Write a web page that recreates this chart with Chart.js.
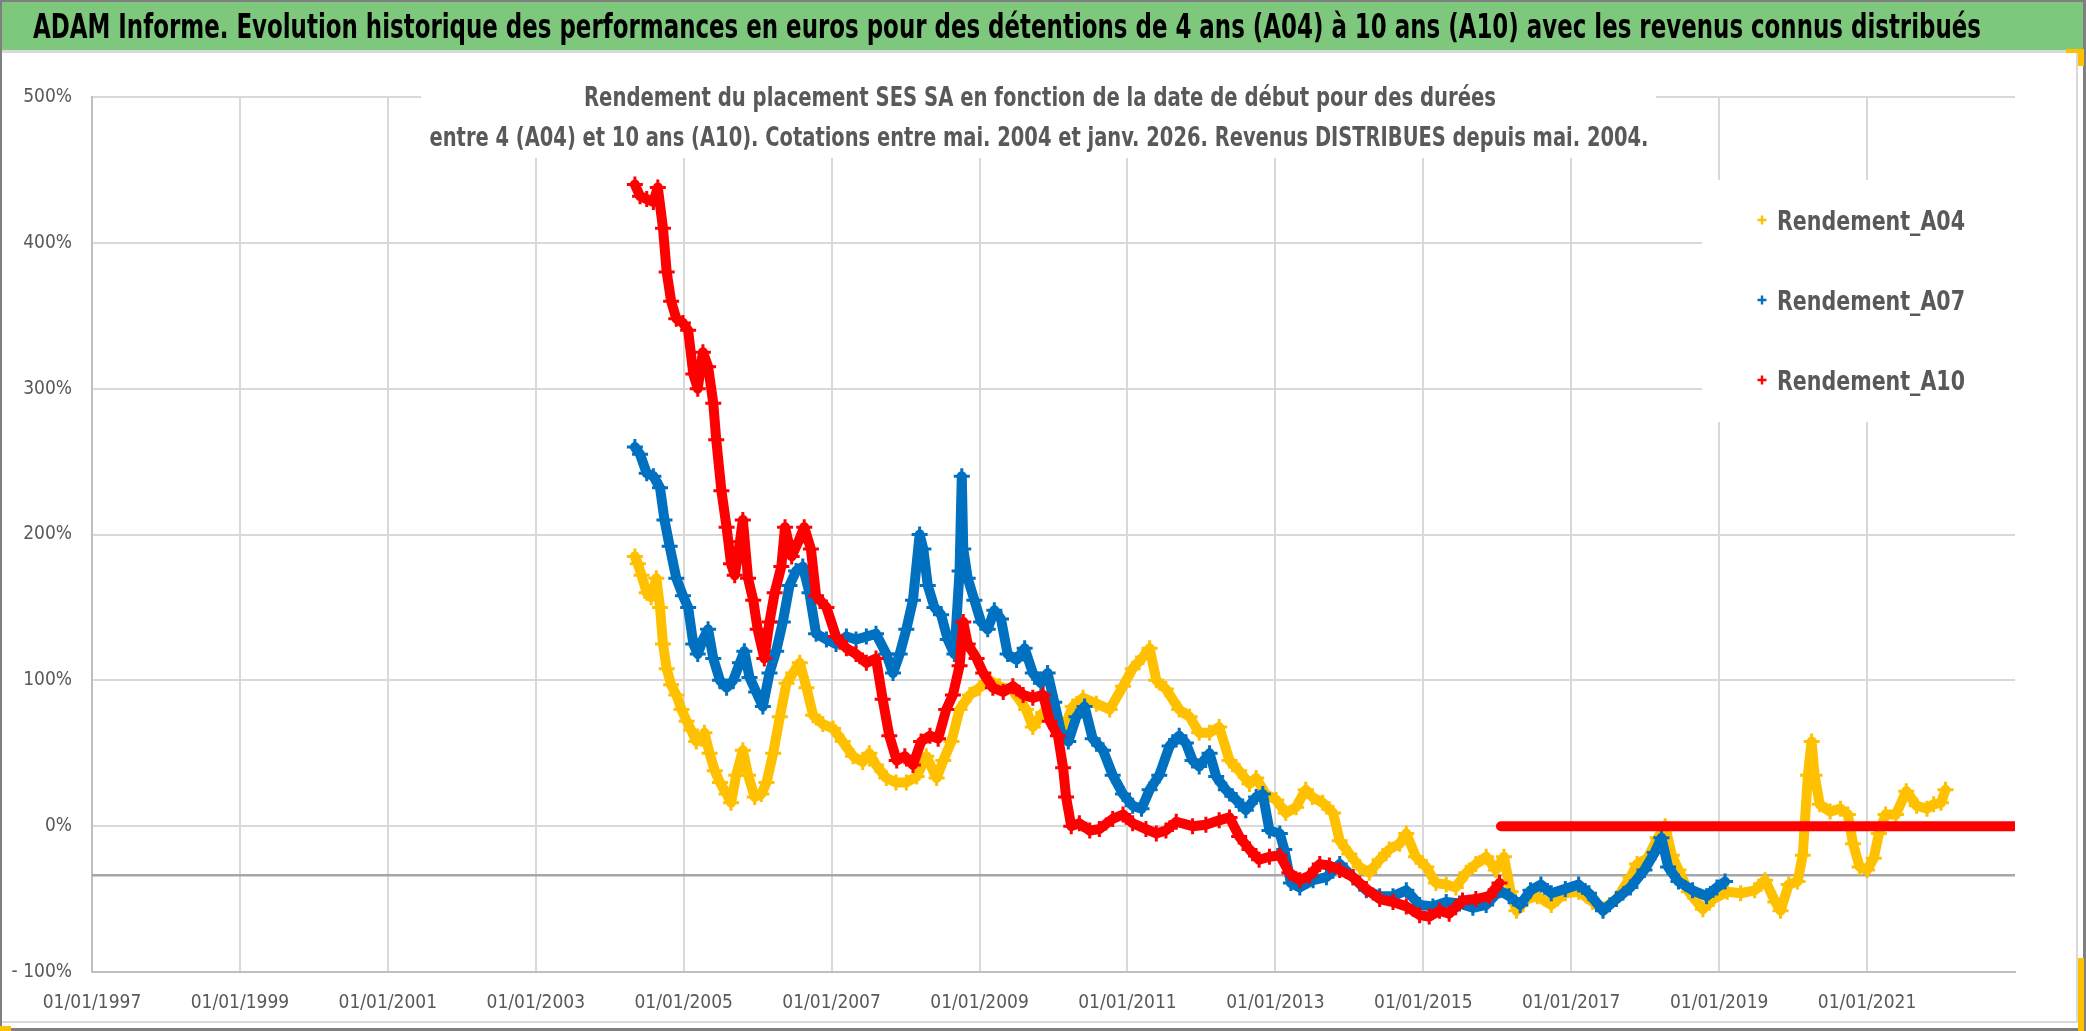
<!DOCTYPE html>
<html><head><meta charset="utf-8">
<script src="https://cdn.jsdelivr.net/npm/chart.js@4/dist/chart.umd.min.js"></script>
<style>html,body{margin:0;padding:0;background:#fff;overflow:hidden}canvas{display:block}</style>
</head><body>
<canvas id="c" width="2086" height="1031"></canvas>
<script>
const bannerTitle = "ADAM Informe. Evolution historique des performances en euros pour des détentions de 4 ans (A04) à 10 ans (A10) avec les revenus connus distribués";
const chartTitleLines = [
  "Rendement du placement SES SA en fonction de la date de début pour des durées",
  "entre 4 (A04) et 10 ans (A10). Cotations entre mai. 2004 et janv. 2026. Revenus DISTRIBUES depuis mai. 2004."
];
const seriesNames = ["Rendement_A04", "Rendement_A07", "Rendement_A10"];
const seriesColors = ["#FFC000", "#0070C0", "#FF0000"];

const xTickYears = [1997, 1999, 2001, 2003, 2005, 2007, 2009, 2011, 2013, 2015, 2017, 2019, 2021];
const xTickLabels = ["01/01/1997", "01/01/1999", "01/01/2001", "01/01/2003", "01/01/2005", "01/01/2007", "01/01/2009", "01/01/2011", "01/01/2013", "01/01/2015", "01/01/2017", "01/01/2019", "01/01/2021"];
const yTickValues = [-100, 0, 100, 200, 300, 400, 500];
const yTickLabels = ["- 100%", "0%", "100%", "200%", "300%", "400%", "500%"];
const axisCrossValue = -33.6;

// Rendement_A04 (start date as decimal year, return in %)
const a04Years = [2004.34,2004.38,2004.43,2004.50,2004.56,2004.63,2004.68,2004.72,2004.77,2004.83,2004.90,2004.97,2005.04,2005.10,2005.17,2005.24,2005.28,2005.35,2005.42,2005.49,2005.58,2005.64,2005.71,2005.80,2005.87,2005.96,2006.05,2006.12,2006.21,2006.30,2006.39,2006.48,2006.57,2006.66,2006.75,2006.88,2007.02,2007.15,2007.29,2007.42,2007.51,2007.60,2007.74,2007.87,
2008.01,2008.15,2008.28,2008.42,2008.51,2008.62,2008.73,2008.87,2009.00,2009.14,2009.27,2009.45,2009.63,2009.72,2009.86,2009.99,2010.13,2010.26,2010.40,2010.58,2010.76,2010.94,2011.07,2011.21,2011.30,2011.39,2011.52,2011.70,2011.84,2011.97,2012.11,2012.24,2012.38,2012.51,2012.65,2012.74,2012.87,2013.01,2013.14,2013.28,2013.41,2013.50,2013.64,2013.78,2013.87,2014.00,2014.14,2014.27,2014.41,2014.54,2014.68,2014.77,2014.90,2015.04,2015.17,2015.31,2015.44,2015.58,2015.71,2015.85,2015.98,2016.09,
2016.18,2016.26,2016.40,2016.54,2016.73,2016.92,2017.10,2017.29,2017.43,2017.61,2017.80,2017.89,2018.03,2018.17,2018.27,2018.36,2018.45,2018.59,2018.78,2018.92,2019.11,2019.29,2019.48,2019.62,2019.76,2019.83,2019.94,2020.06,2020.13,2020.20,2020.25,2020.29,2020.36,2020.50,2020.64,2020.74,2020.81,2020.90,2021.00,2021.09,2021.16,2021.25,2021.39,2021.53,2021.67,2021.81,2021.90,2022.00,2022.06];
const a04Values = [185,180,172,160,157,170,150,125,108,97,90,80,72,66,58,60,64,50,38,30,22,16,35,52,35,20,22,30,50,75,98,105,112,95,76,70,67,58,48,44,50,42,33,30,
30,34,48,33,45,58,80,90,95,100,96,93,80,68,78,80,66,82,88,84,80,96,108,116,122,100,94,80,75,64,64,68,45,38,29,33,22,18,9,13,25,20,16,9,-10,-19,-28,-32,-23,-16,-12,-5,-21,-28,-39,-40,-42,-32,-26,-21,-30,-21,
-45,-58,-50,-48,-54,-46,-45,-52,-57,-50,-35,-26,-22,-8,0,-20,-30,-45,-57,-50,-45,-46,-44,-37,-52,-58,-40,-38,-20,35,58,35,15,10,12,8,-12,-28,-30,-22,-5,8,8,24,14,12,15,16,25];

// Rendement_A07
const a07Years = [2004.34,2004.41,2004.50,2004.59,2004.68,2004.74,2004.81,2004.90,2004.99,2005.06,2005.13,2005.19,2005.26,2005.33,2005.40,2005.49,2005.58,2005.67,2005.76,2005.82,2005.89,2005.98,2006.07,2006.16,2006.25,2006.34,2006.43,2006.52,2006.61,2006.70,2006.79,2006.93,2007.06,2007.20,2007.33,2007.47,2007.60,2007.74,2007.83,2007.92,2008.01,2008.10,2008.19,2008.24,2008.30,2008.39,2008.48,2008.57,2008.66,2008.73,2008.76,2008.78,2008.84,2008.93,2009.02,2009.11,2009.20,2009.29,2009.38,2009.50,2009.61,2009.72,2009.83,2009.92,2010.01,2010.10,2010.20,2010.31,2010.42,2010.53,2010.67,2010.80,2010.94,2011.07,2011.19,2011.30,2011.43,2011.57,2011.70,2011.79,2011.88,2011.97,2012.11,2012.20,2012.33,2012.47,2012.60,2012.74,2012.83,2012.92,2013.06,2013.12,2013.21,2013.33,2013.51,2013.69,2013.87,2014.05,2014.23,2014.41,2014.59,2014.77,2014.95,2015.13,2015.31,2015.49,2015.67,2015.85,2016.03,2016.16,2016.31,2016.45,2016.59,2016.73,2016.92,2017.10,2017.24,2017.43,2017.61,2017.80,2017.99,2018.13,2018.22,2018.31,2018.45,2018.64,2018.83,2018.97,2019.08];
const a07Values = [260,255,242,240,232,210,192,170,158,150,125,118,128,135,115,100,95,100,112,120,102,92,82,105,120,140,165,175,178,160,132,128,125,130,128,130,132,118,105,118,135,155,200,190,165,150,145,128,118,175,240,190,170,155,140,135,148,142,118,114,122,105,98,105,85,65,58,75,82,60,52,35,22,14,12,25,35,55,62,57,45,41,50,34,25,18,11,20,22,-3,-5,-16,-39,-42,-37,-35,-26,-35,-44,-48,-48,-44,-54,-55,-52,-53,-56,-54,-44,-48,-54,-44,-40,-46,-43,-40,-46,-58,-50,-42,-30,-18,-8,-28,-38,-44,-48,-42,-38];

// Rendement_A10
const a10Years = [2004.34,2004.41,2004.50,2004.59,2004.65,2004.72,2004.77,2004.83,2004.90,2004.99,2005.06,2005.13,2005.19,2005.26,2005.33,2005.40,2005.44,2005.51,2005.58,2005.64,2005.69,2005.76,2005.80,2005.87,2005.94,2006.00,2006.09,2006.16,2006.23,2006.32,2006.37,2006.46,2006.55,2006.63,2006.72,2006.79,2006.93,2007.06,2007.20,2007.33,2007.47,2007.60,2007.69,2007.78,2007.88,2007.99,2008.10,2008.21,2008.33,2008.44,2008.55,2008.64,2008.73,2008.78,2008.84,2008.96,2009.05,2009.18,2009.32,2009.45,2009.59,2009.72,2009.86,2009.95,2010.06,2010.13,2010.17,2010.24,2010.35,2010.49,2010.62,2010.80,2010.94,2011.07,2011.25,2011.39,2011.52,2011.66,2011.88,2012.06,2012.24,2012.38,2012.51,2012.65,2012.78,2012.92,2013.06,2013.19,2013.33,2013.46,2013.60,2013.73,2013.87,2014.05,2014.23,2014.41,2014.59,2014.77,2014.95,2015.08,2015.22,2015.35,2015.53,2015.71,2015.89,2016.03];
const a10Values = [440,432,430,428,438,410,380,360,348,345,340,310,300,325,315,290,265,230,205,180,172,195,210,170,155,135,115,140,160,178,205,185,195,205,190,158,150,130,122,118,112,115,87,62,45,48,42,58,62,60,80,90,110,140,125,115,105,95,92,96,90,88,90,72,62,40,20,0,2,-3,-2,5,8,2,-2,-5,-3,3,0,1,4,6,-7,-16,-23,-21,-20,-32,-37,-34,-26,-27,-30,-35,-43,-50,-52,-55,-61,-62,-58,-60,-51,-50,-48,-39];
// Rendement_A10 after 2016 (flat at 0 %)
const a10FlatYears = [2016.05, 2017.0, 2018.0, 2019.0, 2020.0, 2021.0, 2022.0, 2022.99];
const a10FlatValues = [0, 0, 0, 0, 0, 0, 0, 0];

const FONT = "'DejaVu Sans Condensed','Liberation Sans Narrow','Liberation Sans',sans-serif";
const GRAY_TEXT = "#595959";

function pts(xs, ys) { return xs.map((x, i) => ({ x: x, y: ys[i] })); }

function fitText(ctx, text, x, y, w, font, color, align) {
  ctx.save();
  ctx.font = font;
  const m = ctx.measureText(text).width;
  ctx.translate(x, y);
  ctx.scale(w / m, 1);
  ctx.fillStyle = color;
  ctx.textAlign = "left";
  ctx.textBaseline = "alphabetic";
  ctx.fillText(text, align === "center" ? -m / 2 : 0, 0);
  ctx.restore();
}

function drawCross(ctx, x, y, r, color) {
  ctx.save();
  ctx.strokeStyle = color; ctx.lineWidth = 2.4;
  ctx.beginPath();
  ctx.moveTo(x - r, y); ctx.lineTo(x + r, y);
  ctx.moveTo(x, y - r); ctx.lineTo(x, y + r);
  ctx.stroke();
  ctx.restore();
}

const decor = {
  id: "decor",
  beforeDraw(chart) {
    const ctx = chart.ctx, W = chart.width, H = chart.height;
    ctx.save();
    ctx.fillStyle = "#FFFFFF"; ctx.fillRect(0, 0, W, H);
    ctx.fillStyle = "#7DC87C"; ctx.fillRect(0, 0, W, 50);
    ctx.fillStyle = "#7F7F7F"; ctx.fillRect(0, 0, W, 2);
    ctx.fillStyle = "#D9D9D9"; ctx.fillRect(0, 50, W, 3);
    ctx.restore();
    fitText(ctx, bannerTitle, 33, 38, 1948, "bold 34px " + FONT, "#000000", "left");
  },
  beforeDatasetsDraw(chart) {
    const ctx = chart.ctx, a = chart.chartArea;
    const yc = chart.scales.y.getPixelForValue(axisCrossValue);
    ctx.save();
    ctx.strokeStyle = "#A6A6A6"; ctx.lineWidth = 2.5;
    ctx.beginPath(); ctx.moveTo(a.left, yc); ctx.lineTo(a.right, yc); ctx.stroke();
    // title box
    ctx.fillStyle = "#FFFFFF"; ctx.fillRect(421, 58, 1235, 100);
    // legend box
    ctx.fillRect(1702, 180, 313, 242);
    ctx.restore();
    fitText(ctx, chartTitleLines[0], 1040, 106, 912, "bold 27px " + FONT, GRAY_TEXT, "center");
    fitText(ctx, chartTitleLines[1], 1039, 146, 1219, "bold 27px " + FONT, GRAY_TEXT, "center");
    const legY = [220, 300, 380];
    for (let i = 0; i < 3; i++) {
      drawCross(ctx, 1762, legY[i], 4.5, seriesColors[i]);
      fitText(ctx, seriesNames[i], 1777, legY[i] + 10, 188, "bold 27px " + FONT, GRAY_TEXT, "left");
    }
  },
  afterDraw(chart) {
    const ctx = chart.ctx, W = chart.width, H = chart.height;
    ctx.save();
    ctx.fillStyle = "#D9D9D9";
    ctx.fillRect(2076, 53, 2, 970);
    ctx.fillRect(0, 1021, 2078, 2);
    ctx.fillStyle = "#7F7F7F";
    ctx.fillRect(0, 0, 2, H);
    ctx.fillRect(2083, 0, 3, H);
    ctx.fillRect(0, 1028, W, 3);
    ctx.fillStyle = "#FFC000";
    ctx.fillRect(0, 1026, 11, 5);
    ctx.fillRect(2066, 49, 18, 4);
    ctx.fillRect(2078, 49, 6, 17);
    ctx.fillRect(2078, 958, 6, 73);
    ctx.restore();
  }
};

function ds(label, xs, ys, color, bw, pr) {
  return {
    label: label, data: pts(xs, ys), showLine: true,
    borderColor: color, backgroundColor: color, borderWidth: bw,
    pointStyle: "cross", pointRadius: pr, pointBorderWidth: 3, pointHoverRadius: pr,
    tension: 0, borderJoinStyle: "round", borderCapStyle: "round"
  };
}

new Chart(document.getElementById("c"), {
  type: "scatter",
  data: {
    datasets: [
      ds(seriesNames[2], a10Years, a10Values, seriesColors[2], 10, 8),
      ds(seriesNames[2], a10FlatYears, a10FlatValues, seriesColors[2], 10, 0),
      ds(seriesNames[1], a07Years, a07Values, seriesColors[1], 10, 8),
      ds(seriesNames[0], a04Years, a04Values, seriesColors[0], 10, 8)
    ]
  },
  options: {
    responsive: false, animation: false, devicePixelRatio: 1,
    layout: { padding: { top: 97, right: 71, left: 0, bottom: 0 } },
    plugins: { legend: { display: false }, tooltip: { enabled: false }, title: { display: false } },
    scales: {
      x: {
        type: "linear", min: 1997, max: 2023,
        afterBuildTicks: s => { s.ticks = xTickYears.map(v => ({ value: v })); },
        afterFit: s => { s.height = 59; },
        ticks: { callback: (v, i) => xTickLabels[i], color: GRAY_TEXT, font: { family: FONT, size: 19 }, maxRotation: 0, autoSkip: false, padding: 20 },
        grid: { color: "#D9D9D9", lineWidth: 2, drawTicks: false },
        border: { display: true, color: "#BFBFBF", width: 2 }
      },
      y: {
        min: -100, max: 500,
        afterBuildTicks: s => { s.ticks = yTickValues.map(v => ({ value: v })); },
        afterFit: s => { s.width = 92; },
        ticks: { callback: (v, i) => yTickLabels[i], color: GRAY_TEXT, font: { family: FONT, size: 19 }, padding: 20 },
        grid: { color: "#D9D9D9", lineWidth: 2, drawTicks: false },
        border: { display: true, color: "#BFBFBF", width: 2 }
      }
    }
  },
  plugins: [decor]
});
</script>
</body></html>
